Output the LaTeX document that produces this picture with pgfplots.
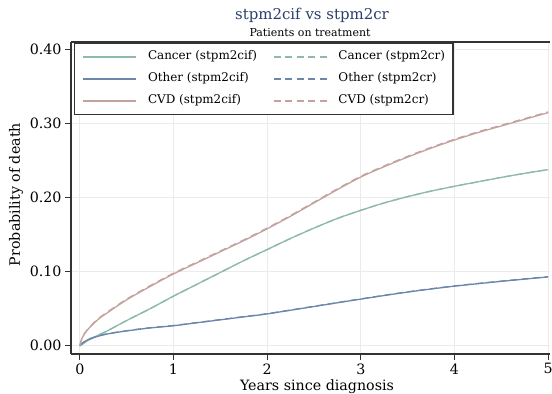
\documentclass[border=0pt]{standalone}
\usepackage{pgfplots}
\usepackage{pgfplotstable}
\pgfplotsset{compat=1.18}
\usepackage{fontspec}
\setmainfont{DejaVu Serif}
\definecolor{cancer}{HTML}{8FB9AC}
\definecolor{other}{HTML}{6C87AB}
\definecolor{cvd}{HTML}{C4A29D}
\definecolor{titleblue}{HTML}{2A3D6B}
\definecolor{axisgray}{HTML}{333333}
\definecolor{gridgray}{HTML}{EBEBEB}

\pgfplotstableread{
t y
0 0
0.02 0.0015
0.05 0.004
0.1 0.008
0.2 0.0145
0.3 0.0205
0.5 0.034
0.75 0.050
1 0.067
1.25 0.083
1.5 0.099
1.75 0.115
2 0.130
2.25 0.145
2.5 0.159
2.75 0.172
3 0.183
3.25 0.193
3.5 0.2015
3.75 0.209
4 0.2155
4.25 0.2215
4.5 0.2275
4.75 0.233
5 0.238
}\cancercif
\pgfplotstableread{
t y
0 0
0.02 0.0015
0.05 0.004
0.1 0.008
0.2 0.0145
0.3 0.0205
0.5 0.034
0.75 0.050
1 0.067
1.25 0.083
1.5 0.099
1.75 0.115
2 0.130
2.25 0.145
2.5 0.159
2.75 0.172
3 0.183
3.25 0.193
3.5 0.2015
3.75 0.209
4 0.2155
4.25 0.2215
4.5 0.2275
4.75 0.233
5 0.238
}\cancercr
\pgfplotstableread{
t y
0 0
0.02 0.003
0.05 0.0055
0.1 0.009
0.2 0.013
0.3 0.016
0.5 0.020
0.75 0.024
1 0.027
1.25 0.031
1.5 0.035
1.75 0.039
2 0.043
2.5 0.053
3 0.063
3.5 0.0725
4 0.0805
4.5 0.087
5 0.093
}\othercif
\pgfplotstableread{
t y
0 0
0.02 0.003
0.05 0.0055
0.1 0.009
0.2 0.0133
0.3 0.0163
0.5 0.0203
0.75 0.0243
1 0.0273
1.25 0.0313
1.5 0.0353
1.75 0.0393
2 0.0433
2.5 0.0533
3 0.0633
3.5 0.0728
4 0.0808
4.5 0.0873
5 0.0933
}\othercr
\pgfplotstableread{
t y
0 0
0.02 0.009
0.05 0.016
0.1 0.024
0.2 0.036
0.3 0.045
0.5 0.062
0.75 0.080
1 0.097
1.25 0.112
1.5 0.127
1.75 0.142
2 0.158
2.25 0.175
2.5 0.193
2.75 0.211
3 0.228
3.25 0.242
3.5 0.255
3.75 0.267
4 0.278
4.25 0.288
4.5 0.297
4.75 0.306
5 0.315
}\cvdcif
\pgfplotstableread{
t y
0 0
0.02 0.009
0.05 0.0165
0.1 0.0248
0.2 0.037
0.3 0.046
0.5 0.063
0.75 0.081
1 0.098
1.25 0.113
1.5 0.128
1.75 0.143
2 0.159
2.25 0.176
2.5 0.194
2.75 0.212
3 0.229
3.25 0.243
3.5 0.256
3.75 0.268
4 0.279
4.25 0.289
4.5 0.298
4.75 0.307
5 0.316
}\cvdcr

\begin{document}
\begin{tikzpicture}[x=1bp,y=1bp]
\path[use as bounding box] (0,0) rectangle (552,393);
\node[anchor=base, font=\fontsize{15}{18}\selectfont, text=titleblue, inner sep=0pt] at (312,374) {stpm2cif vs stpm2cr};
\node[anchor=base, font=\fontsize{11}{13}\selectfont, inner sep=0pt] at (310,357) {Patients on treatment};
\begin{axis}[
  at={(71bp,39bp)}, anchor=south west,
  scale only axis, width=479bp, height=312bp,
  xmin=-0.094, xmax=5.02, ymin=-0.0112, ymax=0.4105,
  axis x line*=bottom, axis y line*=left,
  axis line style={line width=2bp, color=axisgray},
  xtick={0,1,2,3,4,5}, ytick={0,0.1,0.2,0.3,0.4},
  yticklabel style={/pgf/number format/.cd, fixed, fixed zerofill, precision=2},
  /pgf/number format/assume math mode=true,
  tick align=outside, major tick length=6bp,
  tick style={line width=1.2bp, color=axisgray},
  ticklabel style={font=\fontsize{14.3}{16}\selectfont},
  grid=major, major grid style={gridgray, line width=1bp},
  xlabel={Years since diagnosis}, ylabel={Probability of death},
  label style={font=\fontsize{14.3}{16}\selectfont},
  xlabel style={at={(axis description cs:0.5136,-0.117)}, anchor=base, inner sep=0pt},
  ylabel style={at={(axis description cs:-0.1065,0.511)}, anchor=base, inner sep=0pt},
  legend columns=2,
  legend cell align=left,
  legend image code/.code={\draw[#1] (0bp,0bp) -- (53bp,0bp);},
  legend style={at={(axis description cs:0,1)}, anchor=north west, xshift=3bp, yshift=-1bp,
    draw=axisgray, line width=1.2bp, fill=white,
    font=\fontsize{12}{14}\selectfont,
    inner xsep=8bp, inner ysep=8bp, row sep=11bp,
    nodes={inner sep=0pt, text height=8bp, text depth=3bp},
    /tikz/every odd column/.append style={column sep=11bp},
    /tikz/every even column/.append style={column sep=16bp}},
]
\addplot[cancer, line width=1.3bp, smooth, forget plot] table[x=t,y=y] {\cancercif};
\addplot[cancer, line width=1.3bp, smooth, dash pattern=on 7bp off 4.5bp, forget plot] table[x=t,y=y] {\cancercr};
\addplot[other, line width=1.3bp, smooth, forget plot] table[x=t,y=y] {\othercif};
\addplot[other, line width=1.3bp, smooth, dash pattern=on 7bp off 4.5bp, forget plot] table[x=t,y=y] {\othercr};
\addplot[cvd, line width=1.3bp, smooth, forget plot] table[x=t,y=y] {\cvdcif};
\addplot[cvd, line width=1.3bp, smooth, dash pattern=on 7bp off 4.5bp, forget plot] table[x=t,y=y] {\cvdcr};
\addlegendimage{cancer, line width=1.4bp}
\addlegendentry{Cancer (stpm2cif)}
\addlegendimage{cancer, line width=1.4bp, dash pattern=on 7bp off 4.5bp}
\addlegendentry{Cancer (stpm2cr)}
\addlegendimage{other, line width=1.4bp}
\addlegendentry{Other (stpm2cif)}
\addlegendimage{other, line width=1.4bp, dash pattern=on 7bp off 4.5bp}
\addlegendentry{Other (stpm2cr)}
\addlegendimage{cvd, line width=1.4bp}
\addlegendentry{CVD (stpm2cif)}
\addlegendimage{cvd, line width=1.4bp, dash pattern=on 7bp off 4.5bp}
\addlegendentry{CVD (stpm2cr)}
\draw[line width=2bp, axisgray] (rel axis cs:0,1) -- (rel axis cs:1,1);
\end{axis}
\end{tikzpicture}
\end{document}
